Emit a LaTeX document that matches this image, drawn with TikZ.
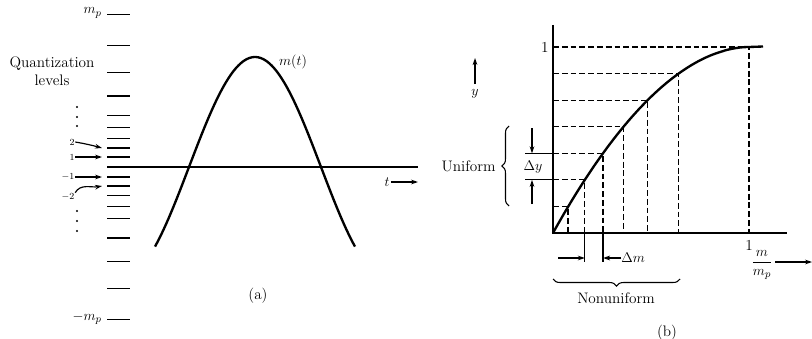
\documentclass[tikz,border=0pt]{standalone}
\usepackage{amsmath}
\usetikzlibrary{arrows.meta, decorations.pathreplacing}

\begin{document}
\begin{tikzpicture}[
    x=0.03cm, y=-0.03cm,
    axis/.style={line width=1.2pt},
    level/.style={line width=1.5pt},
    curve/.style={line width=2pt, line join=round},
    guide/.style={dash pattern=on 5pt off 2.5pt, line width=0.9pt},
    arrow/.style={-{Stealth[length=6pt, width=4pt]}, line width=1pt},
    brace/.style={decorate, decoration={brace, amplitude=6pt}, line width=0.9pt},
    lab/.style={font=\fontsize{13}{15}\selectfont, inner sep=1pt},
    tiny/.style={font=\footnotesize, inner sep=0.5pt}
]
\useasboundingbox (0,0) rectangle (812,339);

%% ─── (a): QUANTIZATION LEVELS ────────────────────────────────
\foreach \d in {10,19,28.5,39.5,51.5,71,94.5,121.5,152.5} {
    \draw[level] (107,167-\d) -- (130,167-\d);
    \draw[level] (107,167+\d) -- (130,167+\d);
}
\draw[axis] (107,167) coordinate (taxis) -- (418,167) coordinate (tend);

\node[lab, anchor=east] (mptop) at (103,13)  {$m_p$};
\node[lab, anchor=east] (mpbot) at (103,318) {$-m_p$};
\node[lab, align=center] (qlev) at (52,71) {Quantization\\levels};

% dots above and below the numbered levels
\foreach \yy in {107,117,126,211,221,231}
    \fill (77,\yy) circle (0.9pt);

% numbered levels
\node[tiny] (l2)  at (72,142) {2};
\node[tiny] (l1)  at (72,157) {1};
\node[tiny] (lm1) at (68,177) {$-1$};
\node[tiny] (lm2) at (68,197) {$-2$};
\coordinate (v2)  at (102,148);
\coordinate (v1)  at (102,157);
\coordinate (vm1) at (102,177);
\coordinate (vm2) at (102,186);
\draw[arrow] (l2.east)  to[out=-10, in=165] (v2);
\draw[arrow] (l1.east)  -- (v1);
\draw[arrow] (lm1.east) -- (vm1);
\draw[arrow] (lm2.north east) to[out=60, in=190] (vm2);

% signal m(t)
\draw[curve, domain=155:355, samples=90]
    plot (\x, {167 - 110*cos(1.363636*(\x-255))});
\node[lab] (mt) at (293,62) {$m(t)$};

\node[lab] (tlab) at (387,182) {$t$};
\coordinate (tarr) at (418,182);
\draw[arrow] (tlab.east) -- (tarr);

\node[lab] (capa) at (258,296) {(a)};

%% ─── (b): COMPRESSOR CHARACTERISTIC ─────────────────────────
\coordinate (O)    at (553,233);
\coordinate (ytop) at (553,25);
\coordinate (xend) at (787,233);
\draw[axis, line width=1.5pt] (ytop) -- (O) -- (xend);

% y = 1-(1-x)^1.9, levels k/7
\foreach \px/\py [count=\i] in {568/206.4, 584.8/179.9, 603/153.3, 623.5/126.7, 647.6/100.1, 678.6/73.6, 749/47} {
    \coordinate (p\i) at (\px,\py);
    \draw[guide] (O |- p\i) -- (p\i) -- (p\i |- O);
}
\coordinate (pend) at (763,46.5);
\draw[curve, domain=0:0.99, samples=80]
    plot ({553+196*\x}, {233-186*(1-(1-\x)^1.9)}) -- (p7) -- (pend);

\node[lab, anchor=east] (one)  at (550,47)  {1};
\node[lab] (onex) at (749,245) {1};

% y arrow
\coordinate (yup) at (475,58);
\node[lab] (ylab) at (475,94) {$y$};
\draw[arrow] (ylab.north) ++(0,-4) -- (yup);

% uniform step on y
\draw[line width=1pt] (525,153.3) -- (O |- p3);
\draw[line width=1pt] (525,179.9) -- (O |- p2);
\coordinate (dyt) at (532,153.3);
\coordinate (dyb) at (532,179.9);
\draw[arrow] (532,128) -- (dyt);
\draw[arrow] (532,204) -- (dyb);
\node[lab] (dy) at (533,167) {$\Delta y$};
\draw[brace] (509,206) -- (509,126);
\node[lab, anchor=east] (unif) at (497,166) {Uniform};

% nonuniform step on m
\draw[line width=1pt] (p2 |- O) -- (584.8,262) coordinate (dma);
\draw[line width=1pt] (p3 |- O) -- (603,262) coordinate (dmb);
\draw[arrow] (558,258) -- (dma |- 0,258);
\draw[arrow] (621,258) -- (dmb |- 0,258);
\node[lab, anchor=west] (dm) at (620,258) {$\Delta m$};
\draw[brace] (680,279) -- (553,279);
\node[lab] (nonu) at (616,298) {Nonuniform};

% m / m_p
\node[lab] (mmp) at (762,265) {$\dfrac{m}{m_p}$};
\coordinate (xarr) at (812,262);
\draw[arrow] (775,262) -- (xarr);

\node[lab] (capb) at (667,333) {(b)};

\end{tikzpicture}
\end{document}
